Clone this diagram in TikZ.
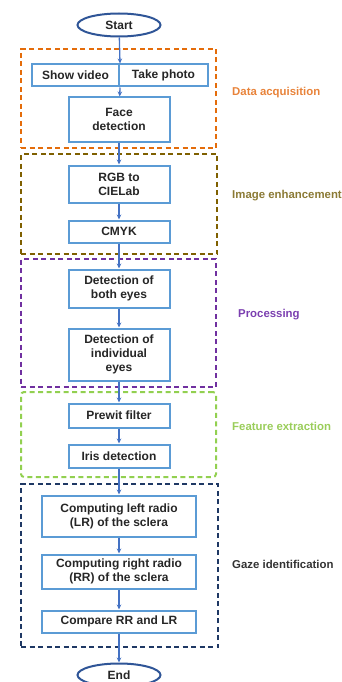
\documentclass[tikz,border=0pt]{standalone}
\usepackage{fontspec}
\setmainfont{Liberation Sans}
\usetikzlibrary{arrows.meta,shapes.geometric}
\definecolor{boxblue}{HTML}{5B9BD5}
\definecolor{arrowblue}{HTML}{4472C4}
\definecolor{ovalblue}{HTML}{2F5597}
\definecolor{cOrange}{HTML}{E46C0A}
\definecolor{cBrown}{HTML}{7F6000}
\definecolor{cPurple}{HTML}{7030A0}
\definecolor{cGreen}{HTML}{92D050}
\definecolor{cNavy}{HTML}{1F3864}
\definecolor{lOrange}{HTML}{E8833A}
\definecolor{lBrown}{HTML}{8B7A35}
\definecolor{lPurple}{HTML}{7B3FB0}
\definecolor{lGreen}{HTML}{9ACD5A}
\definecolor{lGray}{HTML}{333333}
\definecolor{txt}{HTML}{262626}
\tikzset{
  procbox/.style={draw=boxblue, line width=2pt, fill=white, text=txt,
    font=\bfseries\fontsize{12}{14}\selectfont, align=center, inner sep=0pt},
  oval/.style={ellipse, draw=ovalblue, line width=2pt, fill=white, text=txt,
    font=\bfseries\fontsize{12}{14}\selectfont, inner sep=0pt,
    minimum width=83pt, minimum height=23pt},
  flow/.style={-{Stealth[length=5pt,width=4.5pt]}, draw=arrowblue, line width=1.3pt},
  groupbox/.style={line width=2pt, dash pattern=on 5pt off 3.5pt, inner sep=0pt},
  grouplabel/.style={anchor=west, font=\bfseries\fontsize{11.4}{13}\selectfont, inner sep=0pt}
}
\begin{document}
\begin{tikzpicture}[x=1pt,y=-1pt]
\useasboundingbox (0,0) rectangle (342,682);
% group frames
\node[groupbox, draw=cOrange, minimum width=195pt, minimum height=99pt] (gAcq) at (118.5,98.5) {};
\node[groupbox, draw=cBrown, minimum width=196pt, minimum height=100pt] (gEnh) at (119,204) {};
\node[groupbox, draw=cPurple, minimum width=195pt, minimum height=128pt] (gProc) at (118.5,323) {};
\node[groupbox, draw=cGreen, rounded corners=3pt, minimum width=195pt, minimum height=85pt] (gFeat) at (118.5,434.5) {};
\node[groupbox, draw=cNavy, minimum width=197pt, minimum height=163pt] (gGaze) at (119.5,565.5) {};
% group labels
\node[grouplabel, text=lOrange] (lAcq) at (232,93) {Data acquisition};
\node[grouplabel, text=lBrown] (lEnh) at (232,196) {Image enhancement};
\node[grouplabel, text=lPurple] (lProc) at (238,315) {Processing};
\node[grouplabel, text=lGreen] (lFeat) at (232,426) {Feature extraction};
\node[grouplabel, text=lGray] (lGaze) at (232,564) {Gaze identification};
% flow nodes
\node[oval] (start) at (119,25) {Start};
\node[procbox, minimum width=87pt, minimum height=22pt] (sv) at (75.5,75.5) {Show video};
\node[procbox, minimum width=89pt, minimum height=22pt] (tp) at (163.5,75.5) {Take photo};
\node[procbox, minimum width=101pt, minimum height=44pt] (face) at (119,119.5) {Face\\detection};
\node[procbox, minimum width=101pt, minimum height=37pt] (rgb) at (119,184) {RGB to\\CIELab};
\node[procbox, minimum width=101pt, minimum height=22pt] (cmyk) at (119,231.5) {CMYK};
\node[procbox, minimum width=101pt, minimum height=38pt] (both) at (119,288.5) {Detection of\\both eyes};
\node[procbox, minimum width=101pt, minimum height=52pt] (indiv) at (119,354.5) {Detection of\\individual\\eyes};
\node[procbox, minimum width=101pt, minimum height=24pt] (prewit) at (119,415.5) {Prewit filter};
\node[procbox, minimum width=101pt, minimum height=23pt] (iris) at (119,456) {Iris detection};
\node[procbox, minimum width=154pt, minimum height=41pt] (compL) at (119,516) {Computing left radio\\(LR) of the sclera};
\node[procbox, minimum width=154pt, minimum height=34pt] (compR) at (119,571.5) {Computing right radio\\(RR) of the sclera};
\node[procbox, minimum width=154pt, minimum height=22pt] (cmp) at (119,621.5) {Compare RR and LR};
\node[oval] (end) at (119,675) {End};
% connectors
\draw[flow] (start) -- (sv.north east);
\draw[flow] (sv.south east) -- (face);
\draw[flow] (face) -- (rgb);
\draw[flow] (rgb) -- (cmyk);
\draw[flow] (cmyk) -- (both);
\draw[flow] (both) -- (indiv);
\draw[flow] (indiv) -- (prewit);
\draw[flow] (prewit) -- (iris);
\draw[flow] (iris) -- (compL);
\draw[flow] (compL) -- (compR);
\draw[flow] (compR) -- (cmp);
\draw[flow] (cmp) -- (end);
\end{tikzpicture}
\end{document}
